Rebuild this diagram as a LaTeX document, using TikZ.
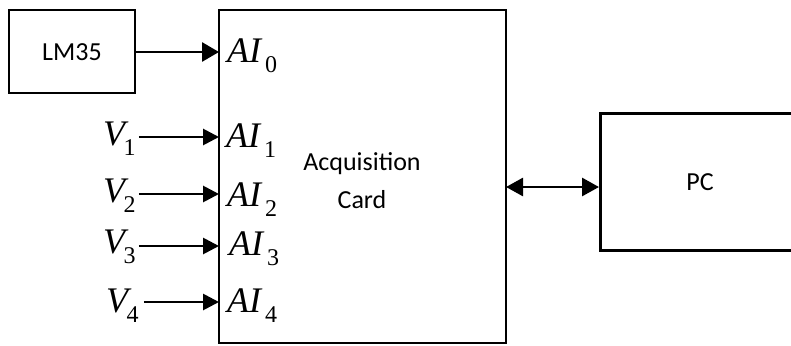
\documentclass[tikz,border=0pt]{standalone}
\usepackage{fontspec}
\setmainfont{Liberation Serif}
\newfontfamily\carl{Carlito}
\usetikzlibrary{arrows.meta}
\newcommand\siglab[3]{{\fontsize{36}{36}\selectfont\itshape #1}\kern#3\raisebox{-10.5pt}{\fontsize{24}{24}\selectfont #2}}
\begin{document}
\begin{tikzpicture}[x=1pt,y=-1pt,
  box/.style={draw=black,line width=2.8pt,inner sep=0pt},
  lbl/.style={font=\carl\fontsize{26}{38}\selectfont,inner sep=0pt,align=center},
  sig/.style={inner sep=0pt,anchor=base west},
  arr/.style={line width=2.8pt,-{Triangle[length=16pt,width=16pt]}},
  dbl/.style={line width=2.8pt,{Triangle[length=17pt,width=18pt]}-{Triangle[length=17pt,width=18pt]}}]
\useasboundingbox (0,0) rectangle (791,345);
\clip (0,0) rectangle (791,345);
% boxes
\node[box,minimum width=126pt,minimum height=83pt] (lm) at (72,51.5) {};
\node[lbl] (lmt) at (72,52) {LM35};
\node[box,minimum width=287pt,minimum height=333pt] (main) at (362.5,176.5) {};
\node[lbl] (acq) at (362,181) {Acquisition\\Card};
\node[box,minimum width=220pt,minimum height=137pt,anchor=north west] (pc) at (599,112) {};
\node[lbl] (pct) at (700,182) {PC};
% input labels
\node[sig] (ai0) at (227,62) {\siglab{AI}{0}{4pt}};
\node[sig] (ai1) at (226,147) {\siglab{AI}{1}{4pt}};
\node[sig] (ai2) at (227,206) {\siglab{AI}{2}{4pt}};
\node[sig] (ai3) at (229,255) {\siglab{AI}{3}{4pt}};
\node[sig] (ai4) at (227,312) {\siglab{AI}{4}{4pt}};
\node[sig] (v1) at (103,145) {\siglab{V}{1}{-1.5pt}};
\node[sig] (v2) at (103,202) {\siglab{V}{2}{-1.5pt}};
\node[sig] (v3) at (103,253) {\siglab{V}{3}{-1.5pt}};
\node[sig] (v4) at (106,312) {\siglab{V}{4}{-1.5pt}};
% arrow end points on the card edge
\coordinate (t0) at (219,52);
\coordinate (t1) at (219,137);
\coordinate (t2) at (219,194);
\coordinate (t3) at (219,246);
\coordinate (t4) at (219,302);
\coordinate (m) at (506,187);
% connectors
\draw[line width=2.8pt,-{Triangle[length=17pt,width=19pt]}] (lm.east |- t0) -- (t0);
\draw[arr] ([xshift=3pt]v1.east |- t1) -- (t1);
\draw[arr] ([xshift=3pt]v2.east |- t2) -- (t2);
\draw[arr] ([xshift=3pt]v3.east |- t3) -- (t3);
\draw[arr] ([xshift=5pt]v4.east |- t4) -- (t4);
\draw[dbl] (m) -- (m -| pc.west);
\end{tikzpicture}
\end{document}
